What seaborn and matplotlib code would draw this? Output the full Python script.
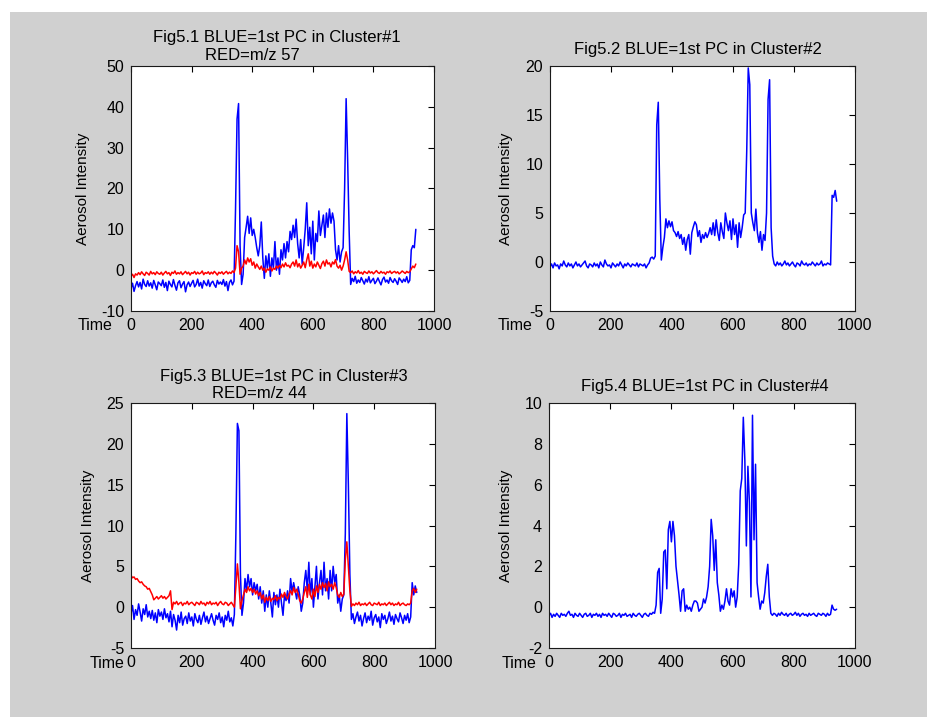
import numpy as np
import pandas as pd
import matplotlib
matplotlib.use("Agg")
import matplotlib.pyplot as plt
from matplotlib.patches import Rectangle
import seaborn as sns

# ---------------- data ----------------
time = list(range(0, 945, 5))

# Fig5.1 blue : 1st PC cluster #1
c1_blue = [
    -4.5,-3.2,-5.2,-3.8,-2.8,-4.1,-3.0,-4.6,-2.2,-3.5,
    -4.0,-2.6,-3.9,-3.1,-4.4,-2.5,-3.6,-4.8,-2.9,-3.3,
    -3.8,-2.4,-4.2,-3.0,-5.0,-2.7,-3.5,-4.1,-2.3,-3.7,
    -4.9,-3.1,-2.6,-4.3,-3.4,-2.8,-5.3,-3.6,-2.9,-4.0,
    -3.2,-2.5,-4.1,-3.5,-2.2,-3.9,-3.0,-4.4,-2.6,-3.3,
    -3.8,-2.4,-4.0,-3.1,-2.7,-3.6,-4.2,-2.5,-3.4,-2.9,
    -3.5,-2.3,-3.9,-2.8,-5.0,-3.0,-2.4,-3.6,-2.7,
    15.0,37.0,40.8,6.0,-3.5,-1.0,8.0,10.5,13.2,9.0,
    12.8,8.5,10.0,8.0,5.5,3.5,6.0,11.8,3.0,-2.0,
    3.5,0.5,4.0,-1.5,3.0,0.5,7.0,0.0,3.0,-1.0,
    5.0,2.5,6.5,3.0,7.0,4.5,9.5,7.5,11.0,8.0,
    12.5,6.5,3.0,7.5,1.5,5.5,10.0,16.5,6.0,10.5,
    4.0,12.0,2.5,9.0,7.0,14.5,8.5,11.0,13.5,8.0,
    14.0,10.5,15.0,11.5,14.0,12.0,5.0,2.5,6.0,2.0,
    4.5,5.5,20.0,42.0,27.0,9.5,
    -3.5,-2.0,-2.8,-1.5,-3.2,-2.4,-3.0,-1.8,-2.6,-3.4,
    -2.2,-2.9,-1.6,-3.1,-2.5,-2.0,-3.3,-2.7,-1.9,-2.8,
    -3.6,-2.3,-1.7,-2.9,-2.4,-3.2,-1.8,-2.6,-3.0,-2.1,
    -2.7,-3.5,-1.9,-2.4,-3.0,-2.2,-2.8,-1.6,-3.1,-2.5,
    5.0,6.0,5.5,10.0,
]

# Fig5.1 red : m/z 57
c1_red = [
    -1.5,-1.0,-1.8,-0.9,-1.2,-0.6,-1.1,-0.4,-0.9,-1.3,
    -0.5,-0.8,-1.2,-0.3,-0.9,-0.6,-1.1,-0.4,-0.8,-1.0,
    -0.5,-1.2,-0.7,-0.3,-0.9,-0.6,-1.3,-0.5,-0.8,-0.2,
    -1.0,-0.6,-0.9,-0.4,-1.1,-0.7,-0.3,-0.9,-0.5,-1.2,
    -0.6,-0.8,-0.3,-1.0,-0.5,-0.9,-0.7,-0.2,-1.1,-0.6,
    -0.8,-0.4,-1.0,-0.5,-0.9,-0.3,-0.7,-1.2,-0.5,-0.8,
    -0.4,-1.0,-0.6,-0.3,-0.9,-0.5,-0.8,-0.2,-0.6,
    0.5,6.0,4.5,-1.0,0.5,1.0,2.5,1.5,3.0,2.0,
    2.8,1.2,2.0,0.5,1.5,0.8,0.2,1.0,0.0,0.5,
    -0.5,0.3,0.0,0.8,-0.2,0.5,0.2,1.0,0.5,1.2,
    0.6,1.5,0.8,1.8,1.0,1.2,0.6,1.5,2.0,1.0,
    2.5,0.8,1.6,0.5,1.2,2.0,0.6,2.5,4.0,1.0,
    2.2,0.5,1.5,0.8,2.0,1.2,0.4,1.6,2.2,1.0,
    2.5,1.5,1.8,0.8,2.0,1.5,2.6,1.0,0.5,1.2,
    0.0,1.0,2.5,4.5,2.5,-0.3,
    -0.6,-0.2,-0.9,-0.4,-0.7,-0.1,-0.8,-0.5,-1.0,-0.3,
    -0.6,-0.8,-0.2,-0.7,-0.4,-0.9,-0.5,-0.1,-0.6,-0.8,
    -0.3,-0.7,-0.5,-1.0,-0.4,-0.6,-0.2,-0.8,-0.5,-0.3,
    -0.7,-0.4,-0.9,-0.6,-0.2,-0.5,-0.8,-0.3,-0.6,-0.4,
    0.3,1.0,0.6,1.5,
]

# Fig5.2 blue : 1st PC cluster #2
c2_blue = [
    -0.5,-0.2,-0.6,-0.1,-0.4,-0.3,-0.7,-0.2,-0.4,0.1,
    -0.3,-0.5,-0.1,-0.4,-0.2,-0.6,-0.3,0.0,-0.4,-0.2,
    -0.5,-0.3,-0.1,0.1,-0.4,-0.6,-0.2,-0.3,-0.5,-0.1,
    -0.4,-0.2,-0.6,0.0,-0.3,-0.5,0.2,-0.2,-0.4,-0.3,
    -0.6,-0.1,-0.3,-0.5,-0.2,-0.4,0.0,-0.3,-0.6,-0.2,
    -0.4,-0.1,-0.3,-0.5,-0.2,-0.3,-0.4,-0.1,-0.5,-0.2,
    -0.3,-0.4,-0.2,-0.6,-0.3,-0.1,0.4,0.5,0.3,
    0.6,14.0,16.3,6.4,0.2,1.5,2.5,4.4,3.5,4.2,
    3.6,4.1,3.2,3.0,2.6,3.1,2.4,2.8,1.8,2.5,
    1.2,2.3,2.8,0.8,3.0,3.6,4.1,3.8,2.6,3.2,
    2.0,2.8,2.4,3.0,2.5,2.9,3.5,2.8,4.0,2.7,
    4.3,3.0,2.2,4.0,3.1,2.4,5.0,4.0,3.2,4.2,
    2.3,4.4,2.8,3.8,1.5,4.0,2.5,3.5,4.8,5.0,
    11.3,19.8,18.1,5.0,4.0,3.2,5.4,3.0,2.0,3.1,
    1.2,2.8,2.2,5.0,16.6,18.6,
    3.5,0.6,-0.2,-0.4,0.0,-0.3,-0.1,-0.4,-0.2,0.1,
    -0.3,-0.1,-0.4,-0.2,0.0,-0.3,-0.5,-0.1,-0.2,-0.4,
    0.1,-0.2,-0.3,-0.1,-0.4,-0.2,-0.3,0.0,-0.2,-0.4,
    -0.1,-0.3,-0.2,0.1,-0.4,-0.2,-0.3,-0.1,-0.2,-0.3,
    6.8,6.6,7.3,6.2,
]

# Fig5.3 blue : 1st PC cluster #3
c3_blue = [
    -0.8,0.2,-1.5,-0.3,-1.0,0.4,-0.6,-1.7,-0.2,-0.9,0.3,-1.2,-0.5,-1.4,
    -0.4,-1.6,-0.7,-1.9,-0.3,-1.1,-0.6,-1.5,-0.2,-1.3,-0.8,-1.8,-0.5,
    -2.4,-0.9,-1.6,-2.8,-1.0,-1.9,-0.6,-2.2,-1.4,-1.1,
    -2.0,-0.7,-1.7,-1.2,-2.3,-0.8,-1.5,-1.9,-1.0,-2.1,
    -1.3,-0.6,-1.8,-1.1,-2.0,-1.4,-0.8,-1.6,-2.2,-1.0,
    -1.5,-0.7,-1.9,-1.2,-2.4,-1.0,-1.6,-0.5,-1.8,-1.3,
    -2.3,-0.9,
    9.0,22.5,21.6,4.0,-1.0,0.5,3.5,2.0,4.0,2.5,
    3.5,1.5,3.0,2.0,2.8,1.0,2.5,0.5,2.0,-0.5,
    1.5,0.0,2.0,0.5,-1.2,1.8,0.3,1.5,0.0,2.2,
    0.5,-1.0,1.5,0.8,2.0,0.5,3.5,1.8,3.0,2.0,
    1.0,2.5,1.5,-0.5,0.5,3.0,4.5,2.0,5.5,1.5,
    3.5,0.0,2.5,5.0,1.0,3.0,4.5,1.5,5.5,2.0,
    3.5,1.0,4.5,2.0,5.0,3.0,4.0,0.5,1.5,-0.5,
    1.0,1.5,9.0,23.7,15.0,4.0,
    -1.5,-0.8,-2.0,-1.2,-0.6,-1.7,-1.0,-2.3,-1.4,-0.7,
    -1.9,-1.1,-1.6,-0.5,-2.2,-1.3,-0.9,-1.8,-1.2,-2.5,
    -0.8,-1.5,-1.0,-2.0,-1.4,-0.6,-1.7,-1.1,-2.1,-0.9,
    -1.4,-1.8,-0.7,-1.3,-2.0,-1.0,-1.6,-0.8,-1.9,-1.2,
    3.0,1.5,2.6,1.8,
]

# Fig5.3 red : m/z 44
c3_red = [
    3.9,3.6,3.7,3.4,3.5,3.2,3.0,3.1,2.8,2.6,2.5,2.2,2.3,1.9,
    1.5,0.9,1.1,1.3,1.0,1.2,1.4,1.1,1.3,1.0,1.2,1.4,2.0,
    -0.3,0.6,0.4,0.7,0.3,0.5,0.6,0.2,0.5,0.4,
    0.7,0.3,0.5,0.6,0.4,0.2,0.6,0.5,0.3,0.7,
    0.4,0.5,0.2,0.6,0.4,0.7,0.3,0.5,0.4,0.6,
    0.2,0.5,0.7,0.4,0.3,0.6,0.5,0.2,0.4,0.6,
    0.3,0.0,
    2.5,5.3,3.0,-0.2,0.8,1.5,2.2,1.8,2.5,2.0,
    2.3,1.8,2.2,1.6,2.0,1.4,1.8,1.0,1.5,0.6,
    1.2,0.8,1.3,0.7,1.1,0.9,1.4,0.8,1.2,1.0,
    1.6,1.2,1.8,1.3,1.0,1.6,2.0,1.5,2.4,1.8,
    2.2,1.6,0.8,0.5,1.0,1.8,2.5,1.2,2.8,1.5,
    1.0,2.2,1.3,2.6,1.8,2.8,2.2,3.0,2.4,2.9,
    2.0,3.1,2.5,2.8,2.2,3.0,2.4,1.5,1.2,1.8,
    1.3,1.6,5.8,8.0,5.0,2.0,
    0.1,0.4,0.2,0.5,0.3,0.6,0.2,0.4,0.3,0.5,
    0.2,0.4,0.6,0.3,0.2,0.5,0.4,0.3,0.6,0.2,
    0.4,0.3,0.5,0.2,0.4,0.6,0.3,0.5,0.2,0.4,
    0.3,0.6,0.2,0.4,0.5,0.3,0.2,0.4,0.3,0.5,
    2.0,2.3,1.8,2.2,
]

# Fig5.4 blue : 1st PC cluster #4
c4_blue = [
    -0.4,-0.3,-0.5,-0.35,-0.45,-0.3,-0.4,-0.5,-0.3,-0.4,
    -0.35,-0.45,-0.3,-0.2,-0.4,-0.35,-0.5,-0.3,-0.4,-0.45,
    -0.3,-0.4,-0.5,-0.35,-0.3,-0.45,-0.4,-0.3,-0.5,-0.35,
    -0.4,-0.3,-0.45,-0.35,-0.5,-0.3,-0.4,-0.35,-0.45,-0.3,
    -0.4,-0.5,-0.3,-0.35,-0.45,-0.4,-0.3,-0.5,-0.35,-0.4,
    -0.3,-0.45,-0.4,-0.35,-0.5,-0.3,-0.4,-0.45,-0.35,-0.3,
    -0.4,-0.5,-0.35,-0.3,-0.4,-0.45,-0.3,-0.35,-0.25,
    -0.3,0.1,1.7,1.9,-0.3,0.4,2.7,2.8,0.9,3.8,
    4.2,3.2,4.2,3.5,2.0,1.3,0.6,-0.2,0.8,0.9,
    -0.2,0.1,-0.1,0.0,-0.2,0.1,0.3,0.3,0.2,-0.2,
    -0.1,0.0,0.4,0.2,0.5,1.0,2.0,4.3,3.5,1.8,
    3.3,1.2,0.6,-0.2,0.1,-0.1,0.3,0.9,0.3,0.1,
    0.9,0.5,0.8,0.0,0.5,2.1,5.7,6.3,9.3,7.2,
    3.0,6.9,5.1,0.5,9.4,3.3,7.0,1.2,0.5,-0.1,
    0.3,0.2,0.7,1.5,2.1,0.5,
    -0.3,-0.4,-0.3,-0.35,-0.45,-0.3,-0.4,-0.25,-0.35,-0.4,
    -0.3,-0.45,-0.35,-0.3,-0.4,-0.35,-0.25,-0.4,-0.3,-0.45,
    -0.35,-0.3,-0.4,-0.35,-0.45,-0.3,-0.4,-0.35,-0.3,-0.4,
    -0.45,-0.3,-0.35,-0.4,-0.3,-0.35,-0.45,-0.3,-0.4,-0.35,
    0.1,-0.1,-0.15,-0.1,
]

titles_line1 = ["Fig5.1 BLUE=1st PC in Cluster#1", "Fig5.2 BLUE=1st PC in Cluster#2",
                "Fig5.3 BLUE=1st PC in Cluster#3", "Fig5.4 BLUE=1st PC in Cluster#4"]
titles_line2 = ["RED=m/z 57", None, "RED=m/z 44", None]
ylims = [(-10, 50), (-5, 20), (-5, 25), (-2, 10)]
yticks = [list(range(-10, 51, 10)), list(range(-5, 21, 5)), list(range(-5, 26, 5)), list(range(-2, 11, 2))]
xticks = [0, 200, 400, 600, 800, 1000]
ylabel = "Aerosol Intensity"
xlabel = "Time"

blue_series = [c1_blue, c2_blue, c3_blue, c4_blue]
red_series = [c1_red, None, c3_red, None]

# ---------------- figure ----------------
sns.set_theme(style="white")
plt.rcParams["font.family"] = ["Liberation Sans", "DejaVu Sans"]
plt.rcParams["text.color"] = "#000000"

W, H = 927, 717
fig = plt.figure(figsize=(W / 100, H / 100), dpi=100)
fig.patch.set_facecolor("white")
fig.patches.append(Rectangle((10 / W, 0), 1, 1 - 12 / H, transform=fig.transFigure,
                             facecolor="#d0d0d0", edgecolor="none", zorder=-10))

def px_axes(l, t, r, b):
    return fig.add_axes([l / W, 1 - b / H, (r - l) / W, (b - t) / H])

boxes = [(131, 66, 434, 311), (550, 66, 855, 311), (131, 403, 435, 648), (549, 403, 855, 648)]
time_dx = [19, 17, 7, 12]
ylab_x = [90, 513, 95, 513]
title1_pos = [(277, 42), (698, 54), (284, 381), (705, 391)]
title2_pos = [(252, 60), None, (259, 398), None]

FS = 11.5
for i in range(4):
    l, t, r, b = boxes[i]
    ax = px_axes(l, t, r, b)
    ax.set_facecolor("white")
    df = pd.DataFrame({"time": time, "blue": blue_series[i]})
    sns.lineplot(data=df, x="time", y="blue", ax=ax, color="#0000ff", linewidth=1.1,
                 estimator=None, sort=False)
    if red_series[i] is not None:
        dfr = pd.DataFrame({"time": time, "red": red_series[i]})
        sns.lineplot(data=dfr, x="time", y="red", ax=ax, color="#ff0000", linewidth=1.1,
                     estimator=None, sort=False)
    ax.set_xlim(0, 1000)
    ax.set_ylim(*ylims[i])
    ax.set_xticks(xticks)
    ax.set_yticks(yticks[i])
    ax.set_xticklabels([str(v) for v in xticks])
    ax.set_yticklabels([str(v) for v in yticks[i]])
    ax.tick_params(direction="in", length=4, width=0.8, top=True, right=True,
                   labelsize=FS, colors="#000000", labelcolor="#000000", pad=5)
    for sp in ax.spines.values():
        sp.set_color("#1a1a1a")
        sp.set_linewidth(0.8)
    ax.set_xlabel("")
    ax.set_ylabel(ylabel, fontsize=FS - 0.5, color="#000000")
    ax.yaxis.set_label_coords((ylab_x[i] - l) / (r - l), 0.5)
    ax.annotate(xlabel, xy=(0, 0), xycoords="axes fraction", xytext=(-time_dx[i], -15),
                textcoords="offset pixels", ha="right", va="center", fontsize=FS,
                color="#000000")
    x1, y1 = title1_pos[i]
    fig.text(x1 / W, 1 - y1 / H, titles_line1[i], ha="center", va="baseline",
             fontsize=FS + 0.5, color="#000000")
    if title2_pos[i] is not None:
        x2, y2 = title2_pos[i]
        fig.text(x2 / W, 1 - y2 / H, titles_line2[i], ha="center", va="baseline",
                 fontsize=FS + 0.5, color="#000000")

for s in blue_series + [c1_red, c3_red]:
    assert len(s) == len(time), len(s)

fig.savefig("out.png", dpi=100, facecolor=fig.get_facecolor())
